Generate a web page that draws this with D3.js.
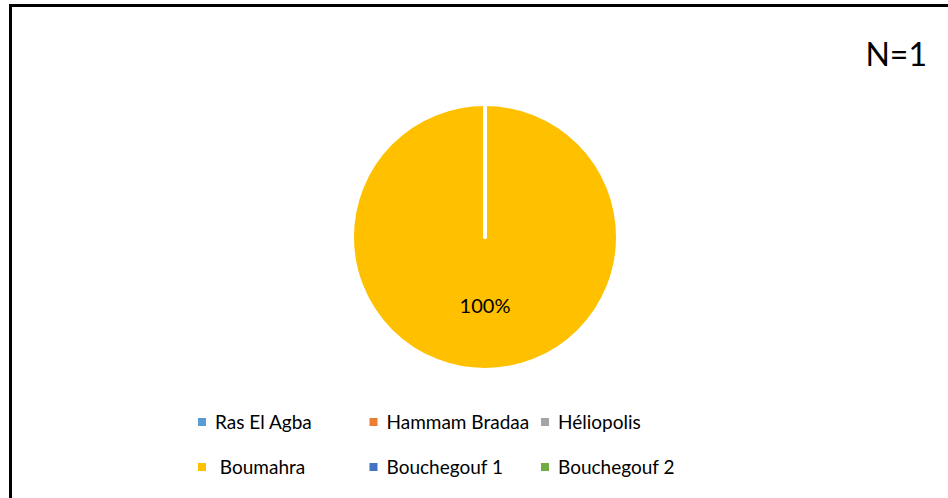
<!DOCTYPE html>
<html>
<head>
<meta charset="utf-8">
<script src="https://cdn.jsdelivr.net/npm/d3@7"></script>
<style>
  html, body { margin: 0; padding: 0; background: #fff; }
  svg { display: block; }
  text { font-family: Lato, "Liberation Sans", Arial, sans-serif; fill: #000; white-space: pre; }
</style>
</head>
<body>
<svg id="chart" width="948" height="498"></svg>
<script>
// Sites and their share of cases
const sites = ["Ras El Agba", "Hammam Bradaa", "Héliopolis", " Boumahra", "Bouchegouf 1", "Bouchegouf 2"];
const shares = [0, 0, 0, 100, 0, 0];
const siteColors = ["#5B9BD5", "#ED7D31", "#A5A5A5", "#FFC000", "#4472C4", "#70AD47"];
const sampleLabel = "N=1";

const W = 948, H = 498;
const svg = d3.select("#chart");

// Chart frame (runs past the right and bottom edges)
svg.append("rect")
  .attr("x", 10.5).attr("y", 5.5)
  .attr("width", W + 10).attr("height", H + 10)
  .attr("fill", "#fff")
  .attr("stroke", "#000")
  .attr("stroke-width", 3);

// Pie
const cx = 485, cy = 237, radius = 133;
const pie = d3.pie().sort(null).value(d => d.value);
const arc = d3.arc().innerRadius(0).outerRadius(radius);
const data = sites.map((s, i) => ({ name: s, value: shares[i], color: siteColors[i] }));
const arcs = pie(data);

const g = svg.append("g").attr("transform", `translate(${cx},${cy})`);
g.selectAll("path")
  .data(arcs)
  .join("path")
  .attr("d", arc)
  .attr("fill", d => d.data.color)
  .attr("stroke", "#fff")
  .attr("stroke-width", 4)
  .attr("stroke-linejoin", "round");

// Percentage labels for non-empty slices
const labelArc = d3.arc().innerRadius(radius * 0.55).outerRadius(radius * 0.55);
const total = d3.sum(shares);
g.selectAll("text.pct")
  .data(arcs.filter(d => d.data.value > 0))
  .join("text")
  .attr("class", "pct")
  .attr("transform", d => {
    // a full circle places its label below the centre
    const full = (d.endAngle - d.startAngle) >= 2 * Math.PI - 1e-6;
    const [x, y] = full ? [0, radius * 0.57] : labelArc.centroid(d);
    return `translate(${x},${y})`;
  })
  .attr("text-anchor", "middle")
  .attr("font-size", 20)
  .text(d => d3.format(".0%")(d.data.value / total));

// Sample size
svg.append("text")
  .attr("x", 927).attr("y", 66)
  .attr("text-anchor", "end")
  .attr("font-size", 32)
  .text(sampleLabel);

// Legend: 3 columns x 2 rows
const colX = d3.scalePoint().domain([0, 1, 2]).range([198, 541]);
const rowY = d3.scalePoint().domain([0, 1]).range([422, 467]);
const leg = svg.append("g").selectAll("g")
  .data(data)
  .join("g")
  .attr("transform", (d, i) => `translate(${colX(i % 3)},${rowY(Math.floor(i / 3))})`);
leg.append("rect")
  .attr("x", 0).attr("y", -4)
  .attr("width", 8).attr("height", 8)
  .attr("fill", d => d.color);
leg.append("text")
  .attr("x", 17).attr("y", 7)
  .attr("font-size", 19)
  .text(d => d.name);
</script>
</body>
</html>
